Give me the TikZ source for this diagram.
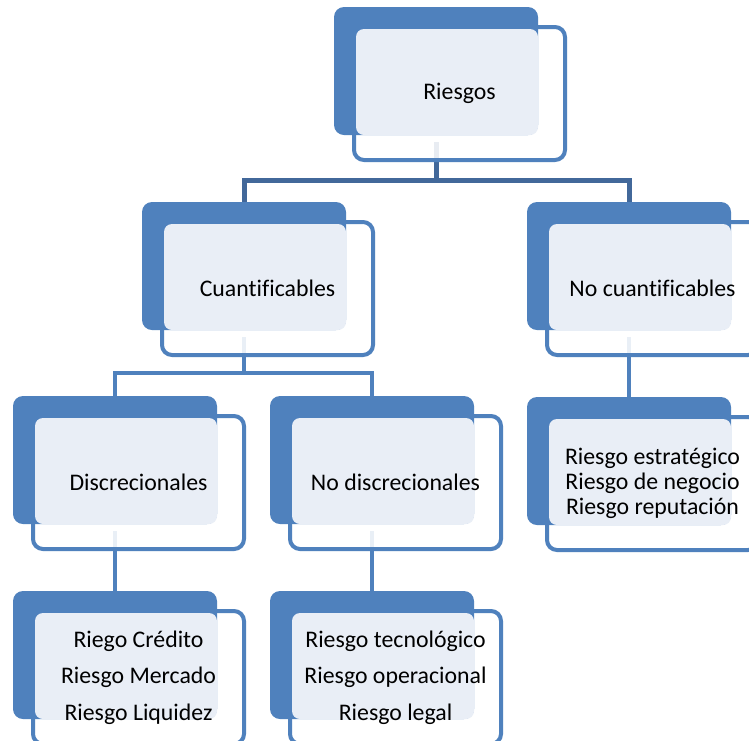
\documentclass[tikz,border=0pt]{standalone}
\usepackage{fontspec}
\setmainfont{Carlito}[Ligatures=NoCommon]
\pgfdeclarelayer{canvas}
\pgfdeclarelayer{background}
\pgfsetlayers{canvas,background,main}
\definecolor{accent}{RGB}{79,129,189}
\definecolor{lightfill}{RGB}{233,238,246}
\definecolor{conntop}{RGB}{66,104,154}
\tikzset{
  backbox/.style={fill=accent, rounded corners=10pt, minimum width=204pt, minimum height=128pt, inner sep=0pt, outer sep=0pt},
  frontbox/.style={draw=accent, line width=4pt, fill=white, fill opacity=0.88, rounded corners=10pt, minimum width=211pt, minimum height=133pt, inner sep=0pt, outer sep=0pt},
  lightbox/.style={fill=lightfill, rounded corners=8pt, minimum width=182pt, minimum height=106pt, inner sep=0pt, outer sep=0pt},
  txt/.style={font=\fontsize{23.8}{25}\selectfont, align=center, text=black, inner sep=0pt},
  txtwide/.style={font=\fontsize{23.8}{36.7}\selectfont, align=center, text=black, inner sep=0pt},
  conn/.style={draw=accent, line width=4.5pt},
  conntopline/.style={draw=conntop, line width=5pt},
}
\newcommand\riskbox[5]{%
  \node[frontbox] (#1f) at ({#2+125.5},{#3+86.5}) {};
  \node[backbox] (#1b) at ({#2+102},{#3+64}) {};
  \node[lightbox] (#1l) at ({#2+113},{#3+75}) {};
  \node[#4] (#1t) at ({#2+125.5},{#3+86.5}) {#5};
}
\begin{document}
\begin{tikzpicture}[x=1pt,y=-1pt]
\useasboundingbox (0,0) rectangle (749,740);
\begin{pgfonlayer}{canvas}
\fill[white] (0,0) rectangle (749,740);
\end{pgfonlayer}
\riskbox{r}{334}{7}{txt}{Riesgos}
\riskbox{c}{142}{202}{txt}{Cuantificables}
\riskbox{n}{527}{202}{txt}{No cuantificables}
\riskbox{d}{13}{396}{txt}{Discrecionales}
\riskbox{nd}{270}{396}{txt}{No discrecionales}
\riskbox{e}{527}{397}{txt}{Riesgo estratégico\\Riesgo de negocio\\Riesgo reputación}
\riskbox{dd}{13}{591}{txtwide}{Riego Crédito\\Riesgo Mercado\\Riesgo Liquidez}
\riskbox{ndd}{270}{591}{txtwide}{Riesgo tecnológico\\Riesgo operacional\\Riesgo legal}
\coordinate (lvlone) at (0,180);
\coordinate (lvltwo) at (0,373);
\begin{pgfonlayer}{background}
  \draw[conntopline] ([yshift=-7pt]rb.south) -- (rb.south |- lvlone);
  \draw[conntopline] (cb.north) -- (cb.north |- lvlone) -- (nb.north |- lvlone) -- (nb.north);
  \draw[conn] ([yshift=-7pt]cb.south) -- (cb.south |- lvltwo);
  \draw[conn] (db.north) -- (db.north |- lvltwo) -- (ndb.north |- lvltwo) -- (ndb.north);
  \draw[conn] ([yshift=-7pt]nb.south) -- (eb.north);
  \draw[conn] ([yshift=-7pt]db.south) -- (ddb.north);
  \draw[conn] ([yshift=-7pt]ndb.south) -- (nddb.north);
\end{pgfonlayer}
\end{tikzpicture}
\end{document}
